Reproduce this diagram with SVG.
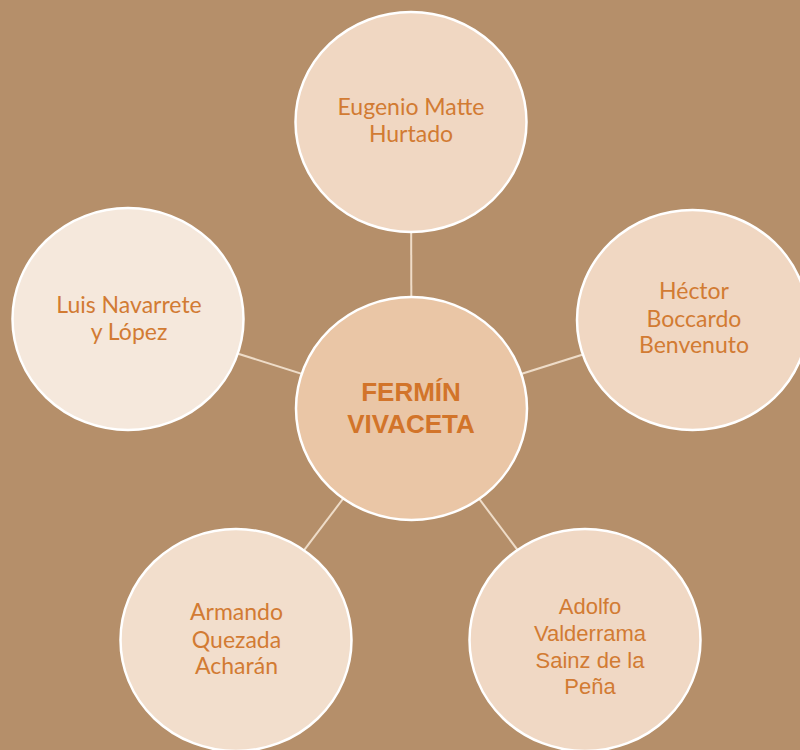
<svg xmlns="http://www.w3.org/2000/svg" width="800" height="750" viewBox="0 0 800 750">
<style>
.node{stroke:#FFFFFF;stroke-width:2.5}
.conn{stroke:#EEDCC8;stroke-width:2}
.lbl{font-family:Lato,"Liberation Sans",sans-serif;font-size:23px;fill:#D27B33;text-anchor:middle}
.lbl2{font-family:"Liberation Sans",Arial,sans-serif;font-size:22px;fill:#D27B33;text-anchor:middle}
.main{font-family:"Liberation Sans",Arial,sans-serif;font-size:26px;font-weight:bold;fill:#D2742A;text-anchor:middle}
</style>
<rect width="800" height="750" fill="#B58F6A"/>
<g id="connectors">
<line class="conn" x1="411.5" y1="408.5" x2="411" y2="122"/>
<line class="conn" x1="411.5" y1="408.5" x2="692.5" y2="320"/>
<line class="conn" x1="411.5" y1="408.5" x2="128" y2="319"/>
<line class="conn" x1="411.5" y1="408.5" x2="236" y2="640"/>
<line class="conn" x1="411.5" y1="408.5" x2="585" y2="640"/>
</g>
<g id="node-top">
<ellipse class="node" cx="411" cy="122" rx="115.5" ry="110" fill="#F0D7C2"/>
<text class="lbl" x="411" y="115">Eugenio Matte</text>
<text class="lbl" x="411" y="141.5">Hurtado</text>
</g>
<g id="node-right">
<ellipse class="node" cx="692.5" cy="320" rx="115.5" ry="110" fill="#F0D7C2"/>
<text class="lbl" x="694" y="299">Héctor</text>
<text class="lbl" x="694" y="326.5">Boccardo</text>
<text class="lbl" x="694" y="353">Benvenuto</text>
</g>
<g id="node-left">
<ellipse class="node" cx="128" cy="319" rx="115.5" ry="111" fill="#F5E8DC"/>
<text class="lbl" x="129" y="313">Luis Navarrete</text>
<text class="lbl" x="129" y="340">y López</text>
</g>
<g id="node-bottom-left">
<ellipse class="node" cx="236" cy="640" rx="115.5" ry="111" fill="#F2DECC"/>
<text class="lbl" x="236.5" y="620">Armando</text>
<text class="lbl" x="236.5" y="647.5">Quezada</text>
<text class="lbl" x="236.5" y="674">Acharán</text>
</g>
<g id="node-bottom-right">
<ellipse class="node" cx="585" cy="640" rx="115.5" ry="111" fill="#F0D8C4"/>
<text class="lbl2" x="590" y="614">Adolfo</text>
<text class="lbl2" x="590" y="641">Valderrama</text>
<text class="lbl2" x="590" y="668">Sainz de la</text>
<text class="lbl2" x="590" y="694">Peña</text>
</g>
<g id="node-center">
<ellipse class="node" cx="411.5" cy="408.5" rx="115.5" ry="111.5" fill="#EAC6A6"/>
<text class="main" x="411" y="401">FERMÍN</text>
<text class="main" x="411" y="433">VIVACETA</text>
</g>
</svg>
